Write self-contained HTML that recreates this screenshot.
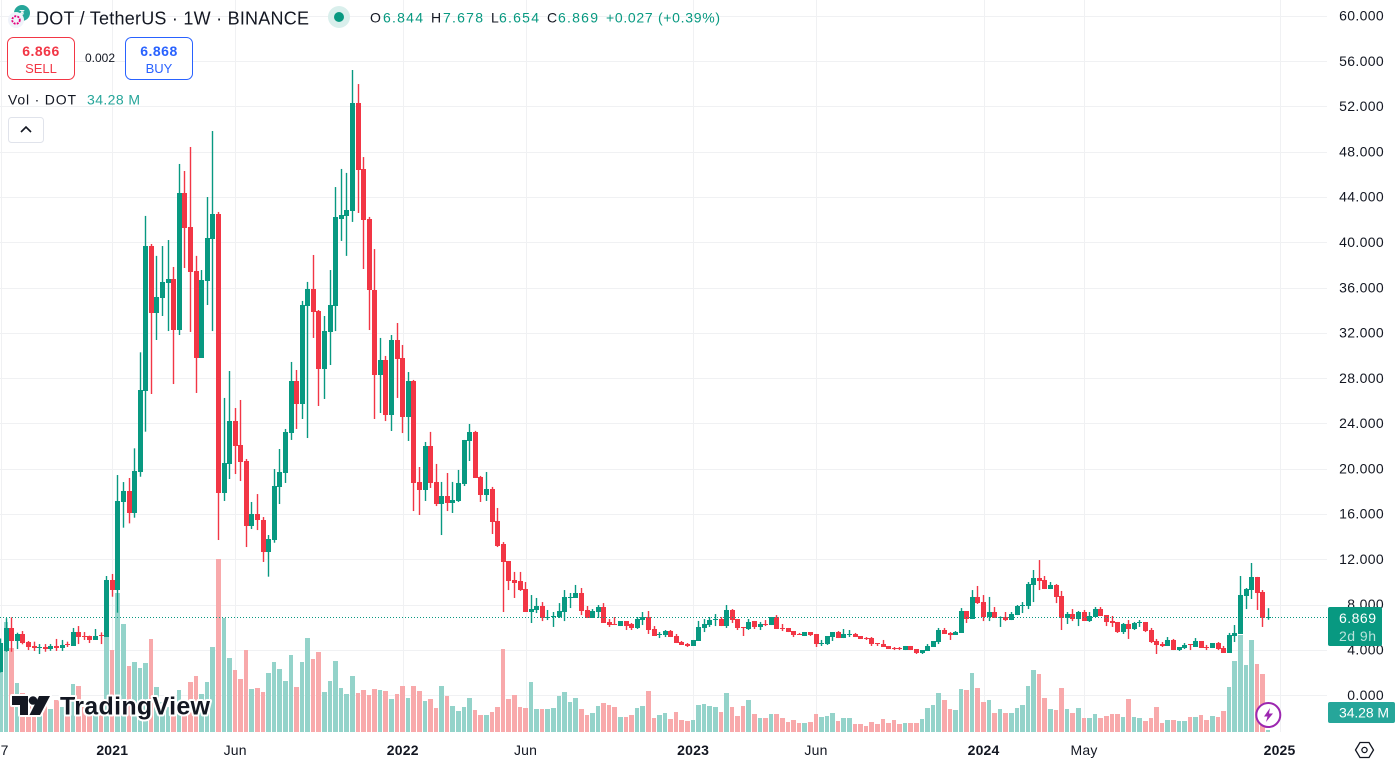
<!DOCTYPE html>
<html lang="en">
<head>
<meta charset="utf-8">
<title>DOT / TetherUS weekly chart</title>
<style>
html,body{margin:0;padding:0;background:#fff;overflow:hidden}
svg{display:block;font-family:"Liberation Sans",sans-serif}
</style>
</head>
<body>
<svg id="chart" xmlns="http://www.w3.org/2000/svg" width="1395" height="764" viewBox="0 0 1395 764">
  <rect x="0" y="0" width="1395" height="764" fill="#ffffff"/>
  <g id="grid" shape-rendering="crispEdges"></g>
  <g id="volumes" shape-rendering="crispEdges"></g>
  <g id="wicks"></g>
  <g id="candles" shape-rendering="crispEdges"></g>
  <line id="last-price-line" x1="0" x2="1327" stroke="#089981" stroke-width="1" stroke-dasharray="1 2" shape-rendering="crispEdges"/>

  <g>
    <g fill="#ffffff" stroke="#ffffff" stroke-width="4" stroke-linejoin="round">
      <polygon points="12,696 28,696 28,715 20,715 20,705 12,705"/>
      <circle cx="33" cy="700.5" r="4.3"/>
      <polygon points="39,696 50,696 40,715 29.5,715"/>
    </g>
    <g fill="#131722">
      <polygon points="12,696 28,696 28,715 20,715 20,705 12,705"/>
      <circle cx="33" cy="700.5" r="4.3"/>
      <polygon points="39,696 50,696 40,715 29.5,715"/>
    </g>
    <text x="60" y="714.5" font-size="25" font-weight="700" fill="#131722" stroke="#ffffff" stroke-width="4" paint-order="stroke" stroke-linejoin="round" textLength="150" lengthAdjust="spacing">TradingView</text>
  </g>

  <g>
    <circle cx="22" cy="13" r="8" fill="#26a69a"/>
    <text x="22" y="16" font-size="8" font-weight="700" fill="#ffffff" text-anchor="middle">₮</text>
    <circle cx="16" cy="20" r="8" fill="#f0f3fa"/>
    <circle cx="16" cy="20" r="3.8" fill="none" stroke="#e6007a" stroke-width="1.8" stroke-dasharray="2 1.2"/>
  </g>
  <text x="36" y="24.5" font-size="18" fill="#131722" textLength="273" lengthAdjust="spacing">DOT / TetherUS · 1W · BINANCE</text>
  <circle cx="339" cy="17" r="11" fill="#d9efec"/>
  <circle cx="339" cy="17" r="5" fill="#089981"/>

  <g font-size="14" fill="#089981">
    <text x="370" y="22.5" fill="#131722">O</text>
    <text x="383" y="22.5" textLength="40">6.844</text>
    <text x="431" y="22.5" fill="#131722">H</text>
    <text x="443" y="22.5" textLength="40">7.678</text>
    <text x="491" y="22.5" fill="#131722">L</text>
    <text x="499" y="22.5" textLength="40">6.654</text>
    <text x="547" y="22.5" fill="#131722">C</text>
    <text x="558" y="22.5" textLength="40">6.869</text>
    <text x="606" y="22.5" textLength="114">+0.027 (+0.39%)</text>
  </g>

  <g>
    <rect x="7.5" y="37.5" width="67" height="42" rx="6" fill="#ffffff" stroke="#f23645"/>
    <text x="41" y="56" font-size="14" font-weight="700" fill="#f23645" text-anchor="middle" letter-spacing=".5">6.866</text>
    <text x="41" y="73" font-size="13" fill="#f23645" text-anchor="middle">SELL</text>
  </g>
  <text x="100" y="62" font-size="12" fill="#131722" text-anchor="middle">0.002</text>
  <g>
    <rect x="125.5" y="37.5" width="67" height="42" rx="6" fill="#ffffff" stroke="#2962ff"/>
    <text x="159" y="56" font-size="14" font-weight="700" fill="#2962ff" text-anchor="middle" letter-spacing=".5">6.868</text>
    <text x="159" y="73" font-size="13" fill="#2962ff" text-anchor="middle">BUY</text>
  </g>

  <text x="8" y="104.5" font-size="14" fill="#131722" textLength="68" lengthAdjust="spacing">Vol · DOT</text>
  <text x="87" y="104.5" font-size="14" fill="#26a69a" textLength="53" lengthAdjust="spacing">34.28 M</text>
  <g>
    <rect x="8.5" y="117.5" width="35" height="25" rx="3" fill="#ffffff" stroke="#e0e3eb"/>
    <polyline points="21,132 26,127 31,132" fill="none" stroke="#131722" stroke-width="1.6"/>
  </g>

  <g>
    <circle cx="1268.3" cy="715" r="12" fill="#ffffff" stroke="#9c27b0" stroke-width="2"/>
    <polygon points="1270,708 1264,716.5 1267.5,716.5 1266,722 1273,713.5 1269,713.5" fill="#9c27b0"/>
  </g>

  <g id="price-axis" font-size="14" fill="#131722"></g>
  <g id="time-axis" font-size="14" fill="#131722"></g>

  <g>
    <rect x="1328" y="607" width="54" height="39" rx="2" fill="#089981"/>
    <text x="1339" y="623" font-size="14" fill="#ffffff" textLength="37" lengthAdjust="spacing">6.869</text>
    <text x="1339" y="641" font-size="14" fill="#ffffff" fill-opacity=".72" textLength="37" lengthAdjust="spacing">2d 9h</text>
  </g>
  <g>
    <rect x="1328" y="702" width="67" height="21" rx="2" fill="#26a69a"/>
    <text x="1339" y="717.5" font-size="14" fill="#ffffff" textLength="50" lengthAdjust="spacing">34.28 M</text>
  </g>

  <g fill="none" stroke="#131722" stroke-width="1.3">
    <polygon points="1355.5,750 1360,742.5 1369,742.5 1373.5,750 1369,757.5 1360,757.5"/>
    <circle cx="1364.5" cy="750" r="2.6"/>
  </g>
</svg>

<script>
var opens = [
2.07,3.92,5.95,4.8,5.4,4.69,4.34,4.16,4.25,4.07,
4.34,4.16,4.55,4.34,5.57,5.22,5.22,4.87,5.3,5.16,
10.17,9.28,17.08,18.03,16.11,19.74,26.9,39.66,33.78,35.08,
36.4,36.76,32.25,44.35,41.35,37.47,29.81,36.58,40.29,42.5,
17.88,20.41,24.21,22.09,20.68,14.96,16,15.5,12.67,13.73,
18.38,19.62,23.16,27.75,25.72,34.37,35.87,33.93,28.81,32.07,
34.37,42.05,42.32,42.76,52.3,46.48,42.06,35.79,28.28,29.6,
24.74,31.37,29.78,24.56,27.75,18.83,18.12,22,18.83,16.88,
17.59,16.97,17.15,18.65,22.45,23.25,19.27,17.68,18.21,15.38,
13.35,11.85,10.17,10.08,9.37,7.34,7.52,7.87,6.81,6.9,
6.9,7.34,8.58,8.58,9.02,7.52,6.81,7.34,7.78,6.46,
6.28,6.1,6.54,6.28,5.93,6.63,6.9,5.84,5.31,5.31,
5.66,5.22,4.69,4.51,4.34,4.78,5.93,6.19,6.63,6.72,
6.1,7.52,6.72,6.02,5.84,6.55,6.02,6.28,6.19,6.9,
5.93,5.93,5.66,5.4,5.22,5.57,5.4,4.51,4.51,5.13,
5.57,5.04,5.31,5.4,5.22,5.04,5.04,4.6,4.51,4.34,
4.16,4.16,3.98,4.34,4.07,3.72,3.9,4.25,4.69,5.75,
5.49,5.31,5.49,7.43,6.72,8.67,8.22,6.9,7.34,6.81,
6.9,6.63,7.07,7.87,7.87,9.72,10.35,10.17,9.37,9.72,
8.76,6.81,7.16,6.72,7.34,6.55,6.9,7.6,7.07,6.55,
6.46,5.57,6.28,5.84,6.37,6.46,5.75,4.78,4.51,4.34,
4.87,3.98,4.16,4.51,4.25,4.78,4.25,4.16,4.6,4.16,
3.72,5.22,5.4,8.76,9.28,10.44,9.11,6.844];

var highs = [
5.0,6.8,6.87,5.51,5.66,4.78,4.72,4.51,4.51,4.51,
4.96,4.87,4.72,5.93,6.1,5.57,5.25,5.84,5.54,10.52,
10.7,19.44,18.82,19.18,21.8,30.28,42.33,39.85,38.8,39.67,
40.2,37.82,46.92,46.3,48.42,38.8,37.55,44,49.83,42.68,
26.25,28.63,25.36,26.07,20.86,17.06,17.76,15.73,14.14,19.97,
21.74,23.51,29.43,28.72,34.82,36.5,38.88,34.02,33.49,37.55,
44.88,46.48,46.13,55.22,53.98,47.53,42.24,39.4,31.55,29.96,
31.81,32.87,30.93,28.54,27.84,20.15,22.36,23.25,20.42,18.83,
19.62,18.83,19.89,22.54,23.95,23.34,19.36,19.71,18.39,16.53,
13.52,11.85,10.88,10.88,9.99,8.84,8.58,8.22,7.52,7.34,
8.13,9.28,9.02,9.73,9.46,7.87,7.6,7.96,8.13,6.72,
6.9,6.54,6.54,6.37,6.9,7.34,7.43,6.1,5.57,5.75,
5.75,5.4,4.78,4.6,4.87,6.55,6.72,6.9,7.16,6.9,
7.96,7.6,6.72,6.02,6.72,6.55,6.46,6.63,6.9,7.07,
6.28,5.93,5.66,5.49,5.57,5.57,5.4,4.87,5.22,5.57,
5.66,5.84,5.75,5.49,5.22,5.13,5.13,4.6,4.87,4.34,
4.25,4.25,4.34,4.34,4.07,3.98,4.51,4.78,5.93,5.93,
5.57,5.66,7.69,7.43,9.28,9.64,8.84,8.67,7.78,6.95,
7.34,7.34,7.96,8.22,9.99,11.05,11.93,10.52,9.99,9.81,
9.2,7.34,7.6,7.43,7.52,7.34,7.78,7.78,7.07,6.99,
6.46,6.37,6.63,6.46,6.63,6.46,5.93,4.96,4.69,5.13,
4.96,4.25,4.6,4.51,5.04,4.78,4.43,4.6,4.69,4.34,
5.49,6.19,10.52,9.46,11.67,10.44,9.28,7.678];

var lows = [
2.0,3.83,3.83,4.07,4.49,3.98,3.9,3.63,3.83,3.91,
3.9,3.9,4.25,4.34,4.51,4.87,4.6,4.87,4.51,5.16,
8.69,7.28,14.79,15.17,15.67,19.29,23.27,26.6,31.37,33.49,
32.16,27.48,31.81,37.73,32.08,26.69,29.81,34.46,32.16,13.7,
17.15,19.09,19.53,18.91,13.08,14.67,14.58,11.76,10.46,13.46,
16.88,18.74,22.54,23.51,24.39,22.71,31.55,25.54,26.16,29.16,
32.16,40.12,38.8,41.8,42.59,37.64,32.25,24.39,24.92,24.21,
23.33,26.25,23.15,22.45,16.26,15.91,17.15,18.3,16.7,14.14,
16.26,16.09,17.06,18.47,20.68,19.18,17.06,17.15,14.23,13.08,
7.34,9.28,8.58,9.2,7.34,6.37,7.25,6.54,6.63,6.02,
6.81,6.54,7.69,8.58,7.07,6.81,6.81,6.81,6.37,6.02,
6.19,6.1,5.75,5.75,5.84,6.19,5.4,5.22,5.04,5.13,
5.13,4.6,4.43,4.25,4.34,4.78,5.57,6.02,6.1,6.1,
5.93,6.37,5.75,5.22,5.75,5.84,5.75,6.1,6.19,5.84,
5.66,5.57,5.13,5.31,5.22,5.22,4.25,4.34,4.43,4.78,
5.04,5.04,5.13,5.13,4.96,4.87,4.34,4.34,4.25,4.07,
3.98,3.98,3.98,3.98,3.63,3.63,3.9,4.25,4.51,5.4,
4.87,5.31,5.49,6.37,6.72,8.05,6.54,6.54,6.81,6.02,
6.54,6.63,7.07,7.25,7.6,8.22,9.28,9.37,9.37,8.13,
5.75,6.28,6.54,6.1,6.55,6.46,6.9,6.99,6.1,6.02,
5.49,5.4,4.96,5.75,6.02,5.57,4.6,3.63,4.25,4.34,
3.98,3.9,4.07,3.98,4.25,4.16,3.98,4.16,3.98,3.72,
3.72,4.69,5.4,7.6,8.49,7.52,6.02,6.654];

var closes = [
4.63,5.95,4.8,5.4,4.63,4.28,4.19,4.25,4.07,4.34,
4.16,4.43,4.43,5.57,5.13,5.13,4.87,5.22,5.2,10.17,
9.28,17.15,18.03,16.11,19.8,26.94,39.66,33.78,35.17,36.5,
36.76,32.25,44.35,41.29,37.38,29.81,36.67,40.38,42.5,17.88,
20.5,24.21,22,20.59,14.96,16,15.5,12.67,13.79,18.47,
19.71,23.25,27.75,25.72,34.46,35.87,33.84,28.8,32.16,34.46,
42.23,42.41,42.85,52.3,46.39,41.97,35.79,28.28,29.6,24.74,
31.37,29.69,24.56,27.75,18.74,18.12,22,18.74,16.88,17.59,
16.97,17.24,18.74,22.54,23.25,19.18,17.68,18.21,15.29,13.17,
11.76,10.08,9.9,9.28,7.34,7.6,7.87,6.81,6.87,6.99,
7.43,8.67,8.67,9.02,7.43,6.81,7.43,7.78,6.37,6.19,
6.19,6.54,6.1,5.93,6.72,6.93,5.75,5.22,5.4,5.66,
5.13,4.6,4.43,4.34,4.87,6.02,6.28,6.63,6.72,6.1,
7.52,6.63,5.93,5.93,6.46,6.02,6.28,6.19,6.9,5.84,
5.84,5.57,5.31,5.31,5.57,5.31,4.51,4.6,5.22,5.57,
5.04,5.4,5.4,5.13,4.96,4.96,4.51,4.51,4.25,4.07,
4.07,4.07,4.34,3.98,3.72,3.98,4.34,4.78,5.75,5.4,
5.31,5.57,7.43,6.72,8.67,8.13,6.9,7.34,6.81,6.9,
6.63,7.16,7.87,7.96,9.81,10.35,10.08,9.37,9.72,8.67,
6.81,7.16,6.72,7.34,6.55,6.99,7.6,6.99,6.46,6.37,
5.57,6.28,5.84,6.37,6.46,5.66,4.69,4.43,4.34,4.87,
3.98,4.25,4.43,4.43,4.78,4.16,4.16,4.6,4.07,3.72,
5.31,5.49,8.84,9.37,10.44,9.02,6.81,6.869];

var volumes = [
1020,1887,1445,833,663,544,510,442,510,391,
544,425,340,816,782,425,340,425,374,1870,
1411,2380,1853,1139,1207,1105,1190,1598,765,510,
425,374,714,425,850,952,646,850,1462,2958,
1955,1275,1071,901,1411,731,748,680,1003,1207,
1088,867,1326,765,1207,1615,1258,1377,680,867,
1224,748,646,952,663,714,629,731,714,697,
561,646,782,578,782,697,527,561,408,782,
612,442,357,425,578,374,289,289,340,425,
1428,561,629,425,408,850,391,391,391,408,
612,680,510,578,391,289,323,442,493,459,
425,255,255,289,408,442,697,238,289,323,
221,340,204,187,204,459,476,442,425,340,
663,425,272,442,544,306,238,238,306,306,
238,170,204,153,153,170,306,255,272,323,
187,238,238,136,136,102,170,136,221,153,
204,136,153,153,153,221,408,459,663,544,
391,374,731,714,1003,748,510,544,323,391,
323,323,408,459,782,1071,986,578,391,374,
748,391,323,408,238,238,306,238,272,306,
306,255,561,255,238,187,238,425,153,204,
204,187,187,255,255,289,204,272,255,357,
765,1224,1666,1156,1581,1173,986,34.28];

var priceTicks = [0,4,8,12,16,20,24,28,32,36,40,44,48,52,56,60];
var timeLabels = ["27","2021","Jun","2022","Jun","2023","Jun","2024","May","2025"];
var timeBarIndex = [0,20,42,72,94,124,146,176,194,229];
var lastPrice = 6.869;

var SVG_NS = "http://www.w3.org/2000/svg";
var PLOT_RIGHT = 1327;
var PLOT_BOTTOM = 732;

function xCenter(i) { return 0.6 + 5.585 * i; }
function barLeft(i) { return Math.round(xCenter(i) - 2.5); }
function yPrice(p) { return 695.1 - 11.32 * p; }
function yVolume(v) { return PLOT_BOTTOM - v / 17.14; }

function makeRect(parent, x, y, w, h, fill) {
  var r = document.createElementNS(SVG_NS, "rect");
  r.setAttribute("x", x);
  r.setAttribute("y", y);
  r.setAttribute("width", w);
  r.setAttribute("height", h);
  r.setAttribute("fill", fill);
  parent.appendChild(r);
  return r;
}

var gridG = document.getElementById("grid");
var volG = document.getElementById("volumes");
var wickG = document.getElementById("wicks");
var candleG = document.getElementById("candles");
var priceAxisG = document.getElementById("price-axis");
var timeAxisG = document.getElementById("time-axis");

priceTicks.forEach(function (p) {
  var y = Math.round(yPrice(p));
  var line = makeRect(gridG, 0, y, PLOT_RIGHT, 1, "#f0f1f3");
  
  
  var t = document.createElementNS(SVG_NS, "text");
  t.setAttribute("x", 1384);
  t.setAttribute("y", yPrice(p) + 4.7);
  t.setAttribute("text-anchor", "end");
  t.setAttribute("letter-spacing", ".35");
  t.textContent = p.toFixed(3);
  
  
  priceAxisG.appendChild(t);
});

timeLabels.forEach(function (label, k) {
  var x = xCenter(timeBarIndex[k]);
  var line = makeRect(gridG, Math.round(x), 0, 1, PLOT_BOTTOM, "#f0f1f3");
  
  
  var t = document.createElementNS(SVG_NS, "text");
  t.setAttribute("x", x);
  t.setAttribute("y", 755);
  t.setAttribute("text-anchor", "middle");
  t.setAttribute("letter-spacing", ".2");
  if (label.length === 4) { t.setAttribute("font-weight", "700"); }
  t.textContent = label;
  
  
  timeAxisG.appendChild(t);
});

closes.forEach(function (c, i) {
  var o = opens[i];
  var up = c >= o;
  var color = up ? "#089981" : "#f23645";
  var volColor = up ? "#94d3ca" : "#f8a9ab";
  var left = barLeft(i);
  var step = barLeft(i + 1) - left;

  var volTop = Math.round(yVolume(volumes[i]));
  var vb = makeRect(volG, left, volTop, step - 1, PLOT_BOTTOM - volTop, volColor);
  
  

  var hy = yPrice(highs[i]);
  var ly = yPrice(lows[i]);
  var wick = makeRect(wickG, left + 1.8, hy, 1.4, Math.max(1, ly - hy), color);
  
  

  var top = Math.round(yPrice(Math.max(o, c)));
  var bot = Math.round(yPrice(Math.min(o, c)));
  var body = makeRect(candleG, left, top, 5, Math.max(1, bot - top), color);
  
  
});

var lp = document.getElementById("last-price-line");
lp.setAttribute("y1", Math.round(yPrice(lastPrice)) + 0.5);
lp.setAttribute("y2", Math.round(yPrice(lastPrice)) + 0.5);
</script>
</body>
</html>
